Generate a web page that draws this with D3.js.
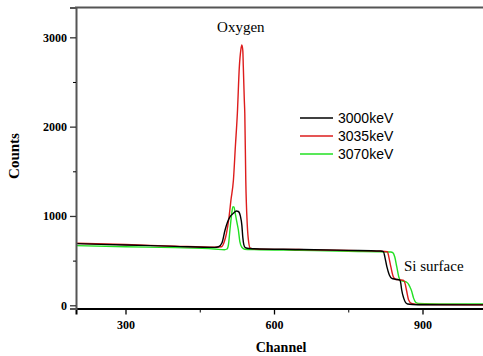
<!DOCTYPE html>
<html>
<head>
<meta charset="utf-8">
<script src="https://cdn.jsdelivr.net/npm/d3@7"></script>
<style>
  body { margin: 0; background: #fff; }
  svg { display: block; }
</style>
</head>
<body>
<div id="chart"></div>
<script>
// series labels
const seriesNames = ["3000keV", "3035keV", "3070keV"];
const seriesColors = ["#000000", "#dd1c1c", "#22e022"];

// 3000keV
const ch3000 = [200, 300, 400, 480, 488, 495, 501, 506, 511, 518, 524, 528, 532, 535, 537, 539, 542, 550, 560, 650, 750, 815, 821, 824, 828, 833, 838, 845, 854, 856, 858, 862, 866, 870, 880, 900, 1000, 1100];
const counts3000 = [690, 675, 660, 648, 655, 700, 840, 930, 990, 1030, 1055, 1050, 1000, 900, 760, 680, 645, 635, 633, 625, 615, 607, 600, 540, 432, 340, 302, 292, 283, 250, 171, 80, 30, 15, 9, 6, 5, 5];

// 3035keV
const ch3035 = [200, 300, 400, 480, 494, 500, 504, 509, 513, 518, 522, 526, 530, 533, 535, 537, 538, 540, 541, 543, 546, 549, 552, 560, 650, 750, 815, 829, 832, 836, 841, 846, 855, 862, 865, 868, 872, 878, 888, 900, 1000, 1100];
const counts3035 = [695, 680, 662, 650, 655, 720, 806, 980, 1177, 1400, 1780, 2150, 2672, 2860, 2915, 2850, 2672, 2300, 2150, 1400, 900, 700, 640, 632, 624, 614, 606, 600, 540, 432, 320, 292, 285, 278, 240, 160, 60, 20, 10, 8, 6, 6];

// 3070keV
const ch3070 = [200, 300, 400, 480, 500, 505, 508, 511, 514, 517, 519, 522, 525, 528, 531, 535, 541, 560, 650, 750, 836, 840, 844, 848, 852, 856, 862, 868, 872, 875, 878, 882, 886, 892, 950, 1100];
const counts3070 = [668, 655, 645, 630, 622, 630, 680, 843, 1000, 1105, 1100, 1020, 930, 843, 712, 650, 628, 624, 615, 605, 597, 590, 540, 432, 320, 275, 268, 258, 235, 200, 160, 80, 35, 20, 15, 13];

// axis ticks
const xMajor = [300, 600, 900];
const xMinor = [450, 750];
const yMajor = [0, 1000, 2000, 3000];
const yMinor = [500, 1500, 2500];

// annotations
const notes = [
  { text: "Oxygen", ch: 535, c: 3080 },
  { text: "Si surface", ch: 858, c: 385 }
];

const W = 483, H = 356;
const svg = d3.select("#chart").append("svg")
  .attr("width", W)
  .attr("height", H);

const x = d3.scaleLinear().domain([200, 1100]).range([76, 521.5]);
const y = d3.scaleLinear().domain([-36, 3335]).range([308.5, 7.4]);

const serif = "'Liberation Serif', 'Times New Roman', serif";
const sans = "'Liberation Sans', Arial, sans-serif";

// top frame line
svg.append("line")
  .attr("x1", 75).attr("x2", W)
  .attr("y1", y(3335)).attr("y2", y(3335))
  .attr("stroke", "#555").attr("stroke-width", 2);

// data lines
const series = [
  { x: ch3070, y: counts3070, color: seriesColors[2] },
  { x: ch3035, y: counts3035, color: seriesColors[1] },
  { x: ch3000, y: counts3000, color: seriesColors[0] }
];

const line = d3.line()
  .x(d => x(d[0]))
  .y(d => y(d[1]))
  .curve(d3.curveMonotoneX);

svg.selectAll("path.series")
  .data(series)
  .enter()
  .append("path")
  .attr("class", "series")
  .attr("d", s => line(s.x.map((v, i) => [v, s.y[i]])))
  .attr("fill", "none")
  .attr("stroke", s => s.color)
  .attr("stroke-width", 1.4);

// bottom axis
const xAxis = svg.append("g")
  .attr("transform", "translate(0," + y(-36) + ")")
  .call(d3.axisBottom(x).tickValues(xMajor).tickSize(6).tickPadding(6).tickFormat(d3.format("d")));
xAxis.select(".domain").attr("stroke", "#000").attr("stroke-width", 2);
xAxis.selectAll(".tick line").attr("stroke-width", 1.3);
xAxis.selectAll("text")
  .style("font-family", serif).style("font-weight", "bold").style("font-size", "12px");
svg.append("g")
  .attr("transform", "translate(0," + y(-36) + ")")
  .call(d3.axisBottom(x).tickValues(xMinor).tickSize(4).tickFormat(""))
  .call(g => g.select(".domain").remove());

// left axis
const yAxis = svg.append("g")
  .attr("transform", "translate(76,0)")
  .call(d3.axisLeft(y).tickValues(yMajor).tickSize(6).tickPadding(3).tickFormat(d3.format("d")));
yAxis.select(".domain").attr("stroke", "#555").attr("stroke-width", 2);
yAxis.selectAll(".tick line").attr("stroke", "#333").attr("stroke-width", 1.3);
yAxis.selectAll("text")
  .style("font-family", serif).style("font-weight", "bold").style("font-size", "12px");
svg.append("g")
  .attr("transform", "translate(76,0)")
  .call(d3.axisLeft(y).tickValues(yMinor).tickSize(3).tickFormat(""))
  .call(g => g.select(".domain").remove());

// axis titles
svg.append("text")
  .attr("x", 281).attr("y", 352)
  .attr("text-anchor", "middle")
  .style("font-family", serif).style("font-weight", "bold").style("font-size", "14px")
  .text("Channel");

svg.append("text")
  .attr("transform", "translate(19,156) rotate(-90)")
  .attr("text-anchor", "middle")
  .style("font-family", serif).style("font-weight", "bold").style("font-size", "15px")
  .text("Counts");

// annotations
svg.append("text")
  .attr("x", x(notes[0].ch) - 1).attr("y", 32)
  .attr("text-anchor", "middle")
  .style("font-family", serif).style("font-size", "15px")
  .text(notes[0].text);
svg.append("text")
  .attr("x", 404).attr("y", 271)
  .style("font-family", serif).style("font-size", "15px")
  .text(notes[1].text);

// legend
const legend = svg.append("g").attr("transform", "translate(300,118)");
seriesNames.forEach((name, i) => {
  const g = legend.append("g").attr("transform", "translate(0," + (i * 18) + ")");
  g.append("line")
    .attr("x1", 0).attr("x2", 33)
    .attr("stroke", seriesColors[i]).attr("stroke-width", 1.5);
  g.append("text")
    .attr("x", 38).attr("y", 5)
    .style("font-family", sans).style("font-size", "14px")
    .text(name);
});
</script>
</body>
</html>
